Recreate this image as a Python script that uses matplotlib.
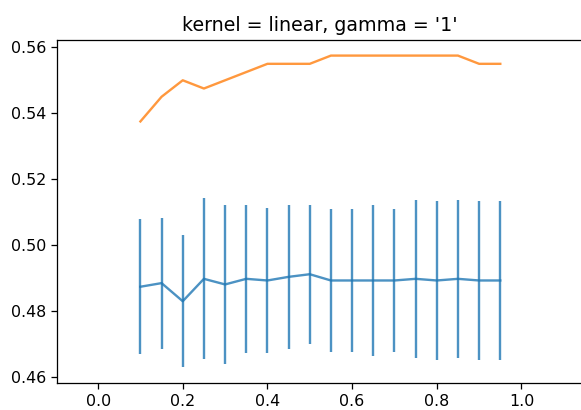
import matplotlib
matplotlib.use("Agg")
import matplotlib.pyplot as plt

x_vals = [0.1, 0.15, 0.2, 0.25, 0.3, 0.35, 0.4, 0.45, 0.5, 0.55,
          0.6, 0.65, 0.7, 0.75, 0.8, 0.85, 0.9, 0.95]
train_scores = [0.5375, 0.545, 0.55, 0.5475, 0.55, 0.5525, 0.555, 0.555, 0.555, 0.5575,
                0.5575, 0.5575, 0.5575, 0.5575, 0.5575, 0.5575, 0.555, 0.555]
test_means = [0.4873, 0.4884, 0.4829, 0.4897, 0.4880, 0.4897, 0.4892, 0.4903, 0.4911, 0.4892,
              0.4892, 0.4892, 0.4892, 0.4897, 0.4892, 0.4897, 0.4892, 0.4892]
test_err = [0.0205, 0.0199, 0.0201, 0.0244, 0.0242, 0.0225, 0.0221, 0.0218, 0.0211, 0.0216,
            0.0218, 0.0230, 0.0218, 0.0240, 0.0240, 0.0240, 0.0240, 0.0240]
title = "kernel = linear, gamma = '1'"

DPI = 114
fig = plt.figure(figsize=(581 / DPI, 410 / DPI), dpi=DPI)
ax = fig.add_axes([57 / 581, 27 / 410, 525 / 581, 343 / 410])
ax.errorbar(x_vals, test_means, yerr=test_err, color="C0", alpha=0.8)
ax.plot(x_vals, train_scores, color="C1", alpha=0.8)
ax.set_xlim(-0.097, 1.143)
ax.set_title(title)
fig.savefig("out.png", dpi=DPI)
